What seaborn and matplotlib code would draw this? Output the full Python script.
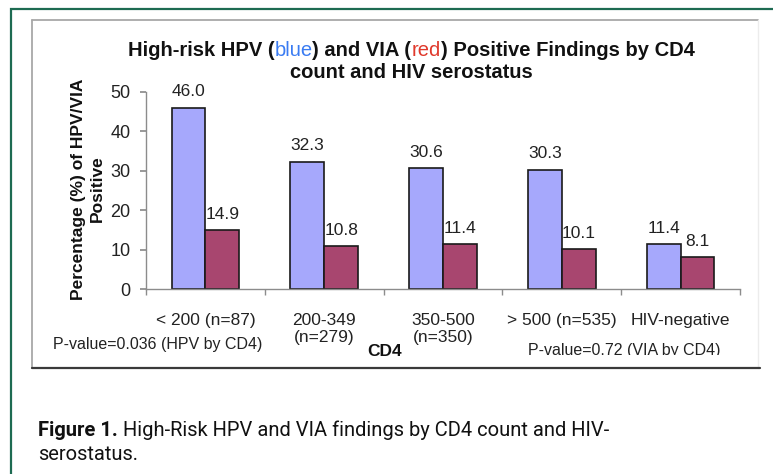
import matplotlib
matplotlib.use('Agg')
import matplotlib.pyplot as plt
import seaborn as sns
import pandas as pd
from matplotlib.patches import Rectangle
from matplotlib.lines import Line2D
from matplotlib.transforms import Bbox, TransformedBbox

# ---- data ----
categories = ["< 200 (n=87)", "200-349\n(n=279)", "350-500\n(n=350)", "> 500 (n=535)", "HIV-negative"]
hpv = [46.0, 32.3, 30.6, 30.3, 11.4]
via = [14.9, 10.8, 11.4, 10.1, 8.1]
series = ["HPV", "VIA"]
yticks = [0, 10, 20, 30, 40, 50]

W, H = 773, 474
sns.set_theme(style='white')
plt.rcParams['font.family'] = ['Liberation Sans', 'DejaVu Sans']

fig = plt.figure(figsize=(W / 100, H / 100), dpi=100)


def fx(px):
    return px / W


def fy(py):
    return 1 - py / H


# ---- frames ----
fig.patches.append(Rectangle((fx(11), fy(H + 20)), 1.2, fy(9) - fy(H + 20), transform=fig.transFigure,
                             fill=False, ec='#1d6b52', lw=1.6))
gray = '#a8a8a8'
fig.add_artist(Line2D([fx(32), fx(758)], [fy(20), fy(20)], transform=fig.transFigure, color=gray, lw=1.3))
fig.add_artist(Line2D([fx(32), fx(32)], [fy(20), fy(368)], transform=fig.transFigure, color=gray, lw=1.3))
fig.add_artist(Line2D([fx(758), fx(758)], [fy(20), fy(368)], transform=fig.transFigure, color='#ececec', lw=1))
fig.add_artist(Line2D([fx(32), fx(760)], [fy(368), fy(368)], transform=fig.transFigure, color='#3a3a3a', lw=1.6))

# ---- axes ----
ax = fig.add_axes([fx(146), fy(289), fx(740) - fx(146), fy(92) - fy(289)])
df = pd.DataFrame({'cat': categories * 2, 'val': hpv + via,
                   'series': [series[0]] * len(hpv) + [series[1]] * len(via)})
sns.barplot(data=df, x='cat', y='val', hue='series', palette=['#a6a8fc', '#a8466f'],
            width=0.57, edgecolor='#1a1a1a', linewidth=1.2, saturation=1, ax=ax, legend=False)

for cont in ax.containers:
    ax.bar_label(cont, fmt='%.1f', padding=6, fontsize=12.5, color='#222222')

ax.set_xlim(-0.5, len(categories) - 0.5)
ax.set_ylim(0, 50)
ax.set_yticks(yticks)
ax.set_xlabel('')
ax.set_ylabel('')
for s in ['top', 'right']:
    ax.spines[s].set_visible(False)
for s in ['left', 'bottom']:
    ax.spines[s].set_color('#8c8c8c')
    ax.spines[s].set_linewidth(1)
ax.tick_params(axis='y', left=True, length=4, color='#8c8c8c', labelsize=13, pad=7, labelcolor='#222222')
ax.tick_params(axis='x', which='major', bottom=True, length=0, labelsize=12.5, pad=17, labelcolor='#222222')
ax.set_xticks([i - 0.5 for i in range(len(categories) + 1)], minor=True)
ax.tick_params(axis='x', which='minor', bottom=True, length=4, color='#8c8c8c')
ax.set_facecolor('white')

# ---- y label ----
fig.text(fx(88), fy(189), "Percentage (%) of HPV/VIA\nPositive", rotation=90, ha='center', va='center',
         fontsize=12.5, weight='bold', color='#111111', linespacing=1.3)

# ---- title (multi-coloured) ----
TS = 14.5
parts = [("High-risk HPV (", 'bold', '#111111'), ("blue", 'normal', '#3b7cf2'),
         (") and VIA (", 'bold', '#111111'), ("red", 'normal', '#e0392c'),
         (") Positive Findings by CD4", 'bold', '#111111')]
t0 = fig.text(0, fy(51), parts[0][0], weight=parts[0][1], color=parts[0][2], fontsize=TS,
              ha='left', va='center')
chain = [t0]
for s, w, c in parts[1:]:
    t = fig.text(0, 0, s, weight=w, color=c, fontsize=TS, ha='left', va='bottom')
    chain.append(t)
fig.canvas.draw()
r = fig.canvas.get_renderer()
widths = [t.get_window_extent(r).width for t in chain]
bb0 = t0.get_window_extent(r)
x = 411 - sum(widths) / 2
for t, wdt in zip(chain, widths):
    t.set_position((x / W, bb0.y0 / H))
    t.set_va('bottom')
    x += wdt
fig.text(fx(411), fy(73), "count and HIV serostatus", weight='bold', fontsize=TS, color='#111111',
         ha='center', va='center')

# ---- CD4 and p-values ----
fig.text(fx(385), fy(351), "CD4", weight='bold', fontsize=12.5, ha='center', va='center', color='#111111')
clip = TransformedBbox(Bbox([[0, fy(355)], [1, 1]]), fig.transFigure)
p1 = fig.text(fx(158), fy(344), "P-value=0.036 (HPV by CD4)", fontsize=11.5, ha='center', va='center',
              color='#222222')
p2 = fig.text(fx(624), fy(351), "P-value=0.72 (VIA by CD4)", fontsize=11.5, ha='center', va='center',
              color='#222222')
for p in (p1, p2):
    p.set_clip_box(clip)
    p.set_clip_on(True)

# ---- caption ----
cap_font = ['Liberation Sans Narrow', 'Roboto', 'DejaVu Sans']
CS = 14.5
c1 = fig.text(fx(38), fy(430), "Figure 1.", weight='bold', fontsize=CS, family=cap_font, ha='left',
              va='center', color='#111111')
fig.canvas.draw()
bbc = c1.get_window_extent(fig.canvas.get_renderer())
fig.text(bbc.x1 / W, fy(430), " High-Risk HPV and VIA findings by CD4 count and HIV-", fontsize=CS,
         family=cap_font, ha='left', va='center', color='#111111')
fig.text(fx(38), fy(455), "serostatus.", fontsize=CS, family=cap_font, ha='left', va='center',
         color='#111111')

fig.savefig('out.png', dpi=100)
